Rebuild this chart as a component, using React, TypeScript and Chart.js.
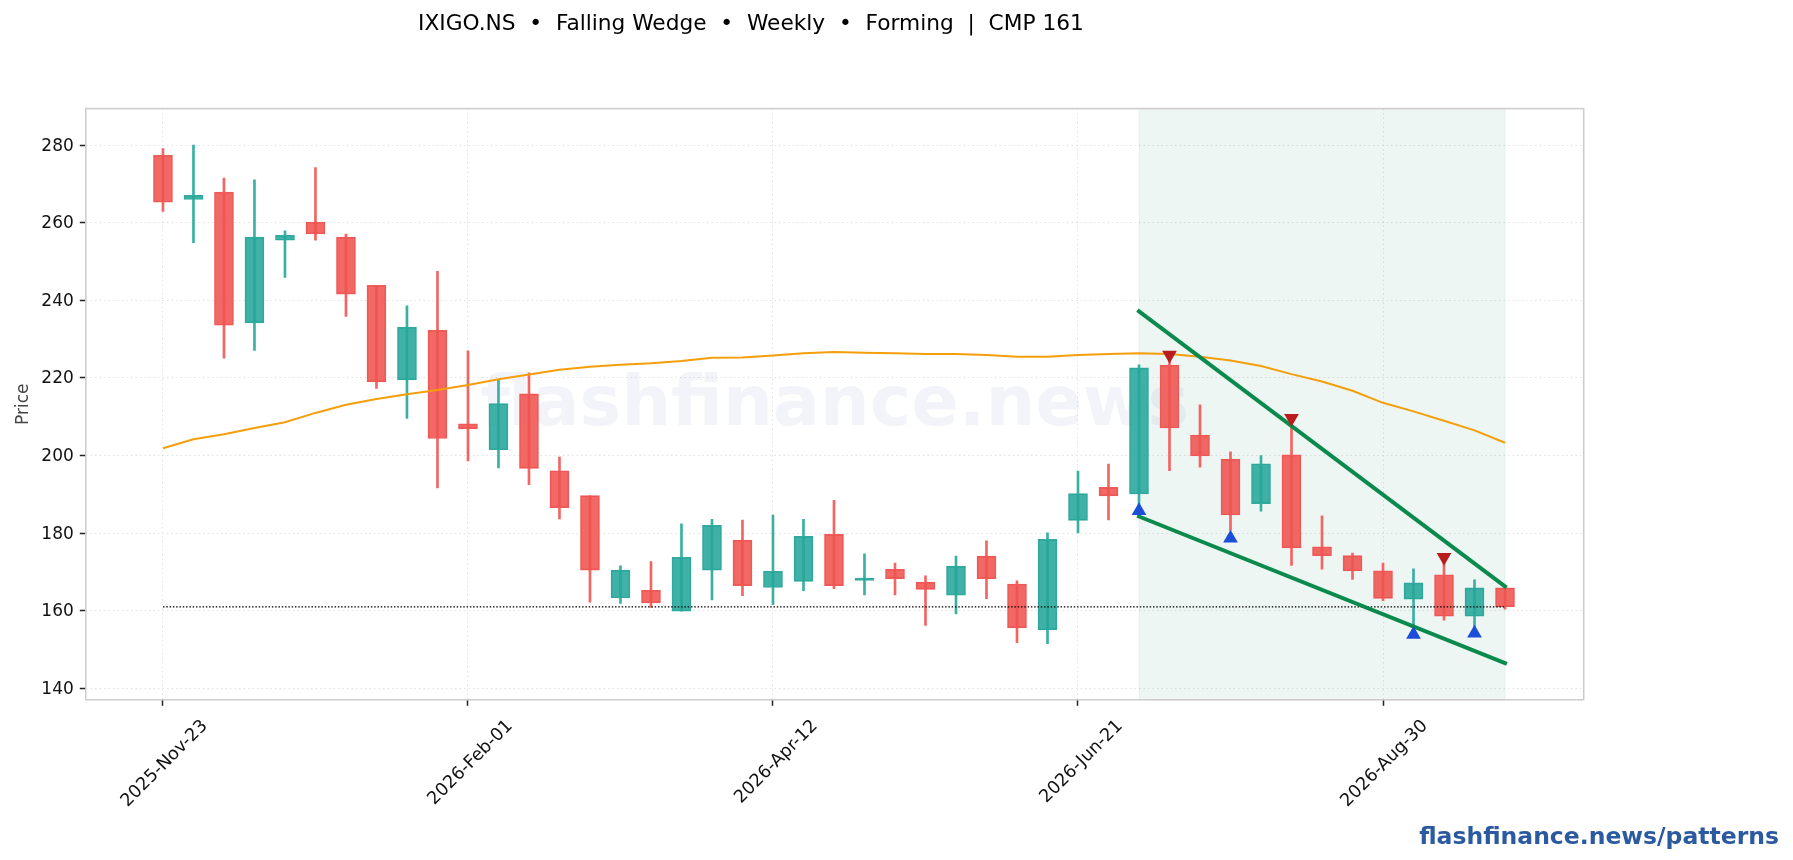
import React, { useEffect, useRef } from 'react';
import Chart, { Plugin } from 'chart.js/auto';

const FONT = '"DejaVu Sans", sans-serif';

const dates = [
  '2025-Nov-23', '2025-Nov-30', '2025-Dec-07', '2025-Dec-14', '2025-Dec-21', '2025-Dec-28', '2026-Jan-04', '2026-Jan-11', '2026-Jan-18', '2026-Jan-25',
  '2026-Feb-01', '2026-Feb-08', '2026-Feb-15', '2026-Feb-22', '2026-Mar-01', '2026-Mar-08', '2026-Mar-15', '2026-Mar-22', '2026-Mar-29', '2026-Apr-05',
  '2026-Apr-12', '2026-Apr-19', '2026-Apr-26', '2026-May-03', '2026-May-10', '2026-May-17', '2026-May-24', '2026-May-31', '2026-Jun-07', '2026-Jun-14',
  '2026-Jun-21', '2026-Jun-28', '2026-Jul-05', '2026-Jul-12', '2026-Jul-19', '2026-Jul-26', '2026-Aug-02', '2026-Aug-09', '2026-Aug-16', '2026-Aug-23',
  '2026-Aug-30', '2026-Sep-06', '2026-Sep-13', '2026-Sep-20', '2026-Sep-27',
];

const opens = [
  277.4, 266.0, 267.9, 234.2, 255.5, 260.2, 256.3, 243.9, 219.5, 232.3,
  208.2, 201.5, 215.9, 196.1, 189.7, 163.3, 165.3, 159.9, 170.5, 178.2,
  166.0, 167.6, 179.7, 167.8, 170.7, 167.4, 164.0, 174.1, 166.9, 155.1,
  183.3, 191.8, 190.1, 223.3, 205.3, 199.1, 187.6, 200.2, 176.5, 174.2,
  170.3, 163.0, 169.3, 158.6, 165.9,
];
const closes = [
  265.3, 267.1, 233.6, 256.3, 256.8, 257.1, 241.6, 219.0, 233.1, 204.4,
  206.9, 213.4, 196.7, 186.6, 170.5, 170.5, 162.0, 173.8, 182.0, 166.5,
  170.2, 179.2, 166.5, 168.4, 168.3, 165.5, 171.5, 168.3, 155.6, 178.4,
  190.2, 189.6, 222.6, 207.1, 199.9, 184.7, 197.9, 176.2, 174.2, 170.3,
  163.2, 167.2, 158.6, 165.9, 161.0,
];
const highs = [
  279.1, 280.0, 271.5, 271.1, 257.9, 274.2, 257.1, 243.9, 238.6, 247.5,
  227.0, 219.6, 221.3, 199.6, 189.7, 171.6, 172.7, 182.4, 183.6, 183.4,
  184.7, 183.6, 188.5, 174.7, 172.3, 169.0, 174.1, 178.0, 167.7, 180.1,
  196.0, 197.8, 223.4, 225.3, 213.1, 201.0, 200.0, 209.0, 184.5, 174.9,
  172.3, 170.8, 173.1, 168.0, 165.9,
];
const lows = [
  262.9, 254.9, 225.1, 227.1, 245.9, 255.5, 235.9, 217.3, 209.6, 191.7,
  198.6, 196.8, 192.5, 183.7, 162.2, 161.9, 160.9, 159.9, 162.8, 163.9,
  161.6, 165.2, 165.7, 164.1, 164.1, 156.2, 159.2, 163.1, 151.8, 151.5,
  180.1, 183.4, 186.5, 196.1, 197.0, 180.7, 185.7, 171.7, 170.7, 168.1,
  162.6, 155.8, 157.6, 155.8, 160.4,
];
const movingAvg = [
  201.9, 204.2, 205.5, 207.1, 208.6, 211.0, 213.1, 214.6, 215.8, 216.9,
  218.2, 219.7, 220.9, 222.1, 222.9, 223.4, 223.8, 224.4, 225.2, 225.3,
  225.8, 226.4, 226.7, 226.5, 226.4, 226.2, 226.2, 225.9, 225.5, 225.5,
  225.9, 226.2, 226.4, 226.2, 225.5, 224.5, 223.1, 221.0, 219.1, 216.7,
  213.6, 211.4, 209.0, 206.5, 203.3,
];

const cmp = 161;
const wedgeStart = 32;
const wedgeEnd = 44;
const upperLine = [237.2, 166.3];
const lowerLine = [184.3, 146.5];
const troughIdx = [32, 35, 41, 43];
const troughVal = [185.8, 178.7, 153.9, 154.2];
const peakIdx = [33, 37, 42];
const peakVal = [225.9, 209.6, 173.8];

const xTicks = [0, 10, 20, 30, 40];
const yTicks = [140, 160, 180, 200, 220, 240, 260, 280];

const idx = dates.map((_, i) => i);
const isUp = idx.map((i) => closes[i] >= opens[i]);

const decorations: Plugin = {
  id: 'decorations',
  beforeDatasetsDraw(chart) {
    const { ctx, chartArea, scales } = chart;
    ctx.save();
    // watermark
    ctx.font = `bold 70px ${FONT}`;
    ctx.fillStyle = 'rgba(30,64,175,0.06)';
    ctx.textAlign = 'center';
    ctx.textBaseline = 'alphabetic';
    ctx.fillText('flashfinance.news', (chartArea.left + chartArea.right) / 2, 425);
    // pattern window
    const x0 = scales.x.getPixelForValue(wedgeStart);
    const x1 = scales.x.getPixelForValue(wedgeEnd);
    ctx.fillStyle = 'rgba(16,130,80,0.07)';
    ctx.fillRect(x0, chartArea.top, x1 - x0, chartArea.bottom - chartArea.top);
    ctx.strokeStyle = 'rgba(16,130,80,0.07)';
    ctx.strokeRect(x0, chartArea.top, x1 - x0, chartArea.bottom - chartArea.top);
    ctx.restore();
  },
  afterDraw(chart) {
    const { ctx, chartArea } = chart;
    ctx.save();
    ctx.strokeStyle = '#cccccc';
    ctx.lineWidth = 1.5;
    ctx.strokeRect(chartArea.left, chartArea.top, chartArea.right - chartArea.left, chartArea.bottom - chartArea.top);
    ctx.textBaseline = 'alphabetic';
    ctx.textAlign = 'left';
    ctx.fillStyle = '#000000';
    ctx.font = `21.7px ${FONT}`;
    ctx.fillText('IXIGO.NS  •  Falling Wedge  •  Weekly  •  Forming  |  CMP 161', 418, 29.5);
    ctx.textAlign = 'right';
    ctx.fillStyle = '#2c5aa0';
    ctx.font = `bold 23.5px ${FONT}`;
    ctx.fillText('flashfinance.news/patterns', 1779, 844);
    ctx.restore();
  },
};

export default function App() {
  const canvasRef = useRef<HTMLCanvasElement>(null);

  useEffect(() => {
    document.body.style.margin = '0';
    const canvas = canvasRef.current;
    if (!canvas) return;

    const chart = new Chart(canvas, {
      type: 'bar',
      data: {
        datasets: [
          {
            type: 'bar',
            data: idx.map((i) => ({ x: i, y: [lows[i], highs[i]] })),
            backgroundColor: idx.map((i) => (isUp[i] ? '#3aafa4' : '#f26563')),
            barThickness: 2,
            grouped: false,
            order: 6,
          },
          {
            type: 'bar',
            data: idx.map((i) => ({ x: i, y: [opens[i], closes[i]] })),
            backgroundColor: idx.map((i) => (isUp[i] ? 'rgba(38,166,154,0.88)' : 'rgba(239,83,80,0.88)')),
            borderColor: idx.map((i) => (isUp[i] ? '#33aa9f' : '#ee5c5a')),
            borderWidth: 1,
            borderSkipped: false,
            barThickness: 19,
            grouped: false,
            order: 5,
          },
          {
            type: 'line',
            data: idx.map((i) => ({ x: i, y: movingAvg[i] })),
            borderColor: '#f59e0b',
            borderWidth: 2,
            pointRadius: 0,
            tension: 0,
            order: 4,
          },
          {
            type: 'line',
            data: [
              { x: 0, y: cmp },
              { x: wedgeEnd, y: cmp },
            ],
            borderColor: '#000000',
            borderWidth: 1.2,
            borderDash: [1.5, 1.8],
            pointRadius: 0,
            order: 3,
          },
          {
            type: 'line',
            data: [
              { x: wedgeStart, y: upperLine[0] },
              { x: wedgeEnd, y: upperLine[1] },
            ],
            borderColor: '#0b8a4e',
            borderWidth: 4,
            borderCapStyle: 'square',
            pointRadius: 0,
            order: 2,
          },
          {
            type: 'line',
            data: [
              { x: wedgeStart, y: lowerLine[0] },
              { x: wedgeEnd, y: lowerLine[1] },
            ],
            borderColor: '#0b8a4e',
            borderWidth: 4,
            borderCapStyle: 'square',
            pointRadius: 0,
            order: 2,
          },
          {
            type: 'line',
            data: troughIdx.map((x, i) => ({ x, y: troughVal[i] })),
            showLine: false,
            pointStyle: 'triangle',
            pointRadius: 8.5,
            pointBackgroundColor: '#1d4ed8',
            pointBorderColor: '#1d4ed8',
            pointBorderWidth: 0,
            order: 1,
          },
          {
            type: 'line',
            data: peakIdx.map((x, i) => ({ x, y: peakVal[i] })),
            showLine: false,
            pointStyle: 'triangle',
            pointRotation: 180,
            pointRadius: 8.5,
            pointBackgroundColor: '#b91c1c',
            pointBorderColor: '#b91c1c',
            pointBorderWidth: 0,
            order: 1,
          },
        ],
      },
      options: {
        animation: false,
        responsive: false,
        devicePixelRatio: 1,
        layout: { padding: { left: 0, top: 108.6, right: 209.3, bottom: 0 } },
        plugins: { legend: { display: false }, tooltip: { enabled: false } },
        scales: {
          x: {
            type: 'linear',
            min: -2.53,
            max: 46.58,
            offset: false,
            afterBuildTicks: (scale) => {
              scale.ticks = xTicks.map((value) => ({ value }));
            },
            afterFit: (scale) => {
              scale.height = 160.2;
            },
            ticks: {
              autoSkip: false,
              minRotation: 45,
              maxRotation: 45,
              labelOffset: 42,
              padding: 10,
              color: '#111111',
              font: { family: FONT, size: 17.7 },
              callback: (value) => dates[Number(value)],
            },
            grid: { offset: false, color: '#e2e2e2', tickColor: '#222222', tickLength: 6, tickWidth: 1.5 },
            border: { display: false, dash: [1.5, 3] },
          },
          y: {
            min: 137.06,
            max: 289.43,
            afterBuildTicks: (scale) => {
              scale.ticks = yTicks.map((value) => ({ value }));
            },
            afterFit: (scale) => {
              scale.width = 85.8;
            },
            title: {
              display: true,
              text: 'Price',
              color: '#444444',
              font: { family: FONT, size: 17 },
              padding: { top: 13, bottom: 0 },
            },
            ticks: {
              padding: 6,
              labelOffset: 1,
              color: '#111111',
              font: { family: FONT, size: 17 },
            },
            grid: { color: '#e2e2e2', tickColor: '#222222', tickLength: 6, tickWidth: 1.5 },
            border: { display: false, dash: [1.5, 3] },
          },
        },
      },
      plugins: [decorations],
    });

    return () => {
      chart.destroy();
    };
  }, []);

  return <canvas ref={canvasRef} width={1793} height={860} style={{ display: 'block' }}></canvas>;
}
